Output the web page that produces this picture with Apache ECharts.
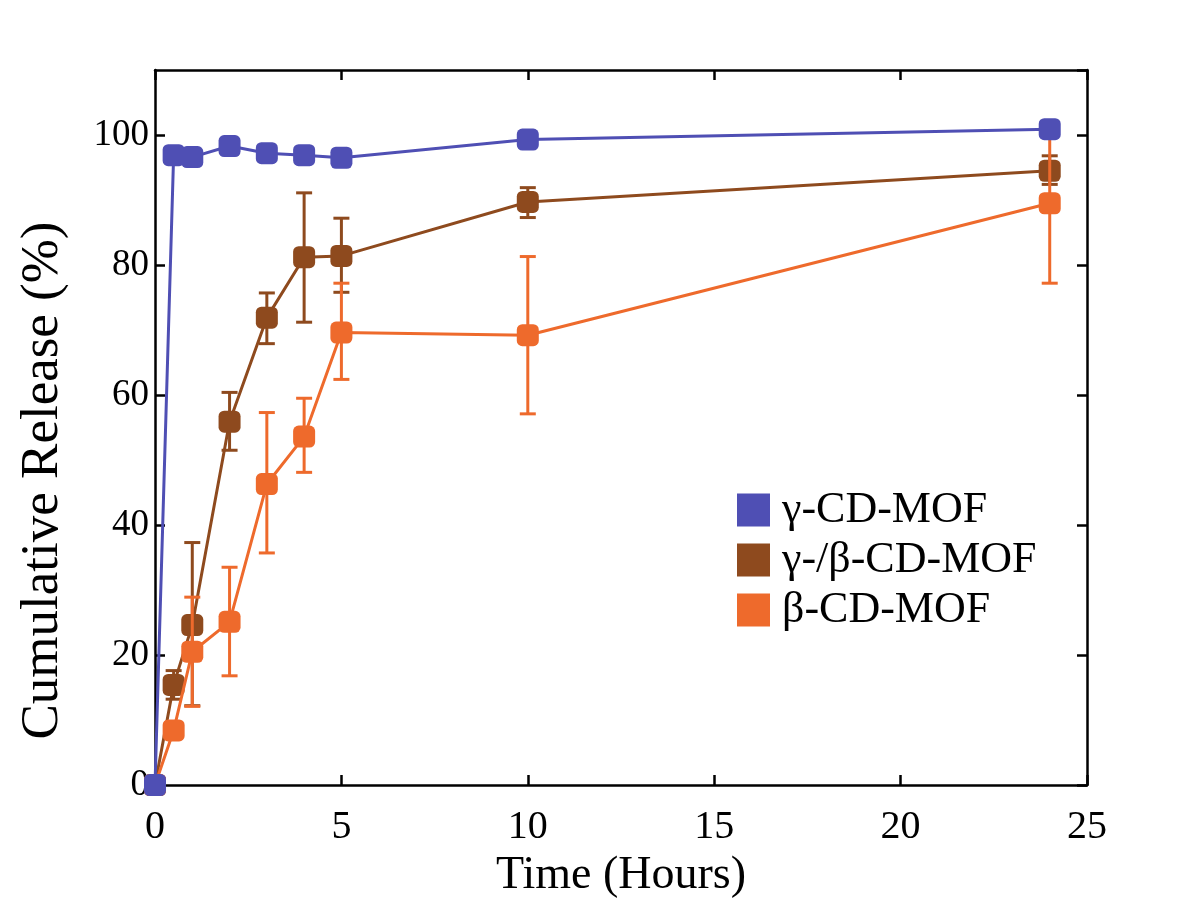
<!DOCTYPE html>
<html><head><meta charset="utf-8">
<script src="https://cdn.jsdelivr.net/npm/echarts@6/dist/echarts.min.js"></script>
<style>html,body{margin:0;padding:0;background:#fff}#c{width:1200px;height:905px}</style>
</head><body><div id="c"></div>
<script>
var times = [0, 0.5, 1, 2, 3, 4, 5, 10, 24];
var gammaMean = [0, 96.9, 96.6, 98.3, 97.2, 96.9, 96.5, 99.3, 100.9];
var gammaLow  = [0, 96.1, 95.8, 97.3, 96.4, 96.1, 95.7, 98.3, 99.7];
var gammaHigh = [0, 97.7, 97.4, 99.3, 98.0, 97.7, 97.3, 100.3, 102.1];
var mixMean = [0, 15.4, 24.6, 55.9, 71.9, 81.2, 81.4, 89.7, 94.5];
var mixLow  = [0, 13.2, 12.2, 51.5, 67.9, 71.2, 75.8, 87.3, 92.4];
var mixHigh = [0, 17.6, 37.3, 60.4, 75.7, 91.1, 87.2, 91.9, 96.8];
var betaMean = [0, 8.4, 20.5, 25.1, 46.3, 53.6, 69.6, 69.2, 89.5];
var betaLow  = [0, 7.6, 12.1, 16.8, 35.7, 48.1, 62.4, 57.1, 77.2];
var betaHigh = [0, 9.2, 28.9, 33.5, 57.3, 59.5, 77.2, 81.3, 101.8];
var names = ['γ-CD-MOF', 'γ-/β-CD-MOF', 'β-CD-MOF'];
var colors = ['#4f4fb4', '#8e4a1e', '#ee6a2c'];
var xTicks = [0, 5, 10, 15, 20, 25];
var yTicks = [0, 20, 40, 60, 80, 100];

var font = 'Liberation Serif';
function pairs(y){ return times.map(function(t,i){return [t,y[i]];}); }
function errData(lo,hi){ return times.map(function(t,i){return [t,lo[i],hi[i]];}); }
function errSeries(name,color,lo,hi,z){
  return {
    type:'custom', name:name+' err', data:errData(lo,hi), z:z,
    renderItem:function(params,api){
      var x=api.value(0), l=api.value(1), h=api.value(2);
      if (h-l<0.01) return null;
      var p1=api.coord([x,l]), p2=api.coord([x,h]);
      var w=8;
      var st={stroke:color,lineWidth:3};
      return {type:'group',children:[
        {type:'line',shape:{x1:p1[0],y1:p1[1],x2:p2[0],y2:p2[1]},style:st},
        {type:'line',shape:{x1:p1[0]-w,y1:p1[1],x2:p1[0]+w,y2:p1[1]},style:st},
        {type:'line',shape:{x1:p2[0]-w,y1:p2[1],x2:p2[0]+w,y2:p2[1]},style:st}
      ]};
    }
  };
}
function lineSeries(name,color,y,z){
  return {type:'line',name:name,data:pairs(y),symbol:'roundRect',symbolSize:22,
    itemStyle:{color:color},lineStyle:{color:color,width:3},z:z,animation:false};
}
var axLine = {onZero:false,lineStyle:{color:'#000',width:2.5}};
var axTick = {inside:true,length:10,lineStyle:{color:'#000',width:2.5}};
var chart = echarts.init(document.getElementById('c'));
chart.setOption({
  animation:false,
  backgroundColor:'#fff',
  grid:{left:155,right:113,top:70,bottom:120,containLabel:false,outerBoundsMode:'none'},
  legend:{data:names.map(function(n,i){return {name:n,icon:'rect',itemStyle:{color:colors[i]}};}),
    orient:'vertical',left:737,top:488,itemWidth:33,itemHeight:33,itemGap:6,padding:0,
    textStyle:{fontFamily:font,fontSize:44,color:'#000',padding:[0,0,0,7]},selectedMode:false},
  xAxis:[{type:'value',min:0,max:25,interval:5,name:'Time (Hours)',nameLocation:'middle',nameGap:68,
    nameMoveOverlap:false,
    nameTextStyle:{fontFamily:font,fontSize:46,color:'#000'},
    axisLine:axLine,axisTick:axTick,
    axisLabel:{fontFamily:font,fontSize:40,color:'#000',margin:22},splitLine:{show:false}},
    {type:'value',min:0,max:25,interval:5,position:'top',
    axisLine:axLine,axisTick:axTick,
    axisLabel:{show:false},splitLine:{show:false}}],
  yAxis:[{type:'value',min:0,max:110,interval:20,name:'Cumulative Release (%)',nameLocation:'middle',nameGap:85,
    nameMoveOverlap:false,
    nameTextStyle:{fontFamily:font,fontSize:53,color:'#000',padding:[0,106,0,0]},
    axisLine:axLine,axisTick:axTick,
    axisLabel:{fontFamily:font,fontSize:37,color:'#000',margin:6,showMaxLabel:false,
      formatter:function(v){return yTicks.indexOf(v)>=0?String(v):'';}},splitLine:{show:false}},
    {type:'value',min:0,max:110,interval:20,position:'right',
    axisLine:axLine,axisTick:axTick,
    axisLabel:{show:false},splitLine:{show:false}}],
  series:[
    errSeries(names[0],colors[0],gammaLow,gammaHigh,9),
    lineSeries(names[0],colors[0],gammaMean,10),
    errSeries(names[1],colors[1],mixLow,mixHigh,5),
    lineSeries(names[1],colors[1],mixMean,6),
    errSeries(names[2],colors[2],betaLow,betaHigh,7),
    lineSeries(names[2],colors[2],betaMean,8)
  ]
});
</script></body></html>
